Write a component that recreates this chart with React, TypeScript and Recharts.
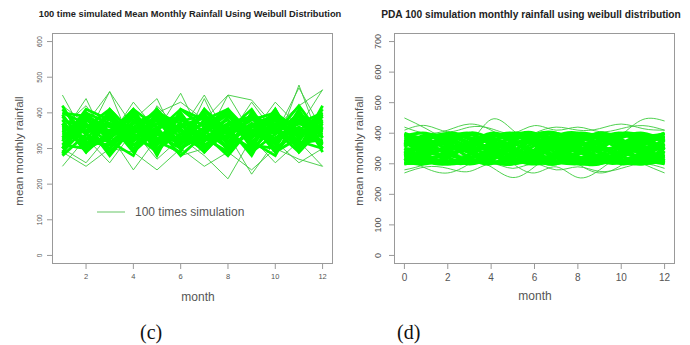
import React from "react";
import { LineChart, Line, XAxis, YAxis } from "recharts";

// (c) months 1..12, 100 time simulated mean monthly rainfall (subset of traces)
const MONTHS_C = [1, 2, 3, 4, 5, 6, 7, 8, 9, 10, 11, 12];
const SIM_C: number[][] = [
  [350, 310, 400, 330, 380, 300, 360, 410, 320, 370, 340, 390],
  [300, 380, 340, 410, 310, 390, 330, 290, 400, 320, 380, 350],
  [410, 340, 300, 370, 400, 350, 290, 360, 330, 410, 300, 370],
  [330, 400, 370, 300, 350, 410, 380, 320, 370, 290, 360, 310],
  [380, 290, 350, 390, 330, 320, 410, 350, 290, 340, 400, 330],
  [290, 360, 410, 340, 290, 370, 320, 390, 350, 380, 320, 410],
  [360, 330, 320, 280, 410, 340, 370, 300, 400, 350, 290, 360],
  [400, 370, 290, 360, 340, 300, 350, 380, 310, 300, 410, 290],
  [320, 410, 380, 330, 370, 390, 300, 340, 380, 400, 350, 320],
  [370, 300, 330, 400, 300, 360, 390, 310, 340, 330, 370, 400],
  [340, 350, 390, 310, 360, 280, 340, 400, 300, 360, 310, 340],
  [310, 390, 360, 380, 320, 400, 310, 350, 410, 310, 390, 300],
  [390, 320, 310, 350, 390, 330, 400, 290, 360, 390, 330, 380],
  [280, 340, 400, 320, 370, 350, 330, 370, 320, 280, 400, 350],
  [350, 380, 350, 400, 280, 410, 360, 330, 390, 360, 300, 420],
  [420, 310, 370, 290, 350, 310, 380, 410, 340, 320, 360, 310],
  [330, 370, 280, 360, 400, 370, 290, 360, 280, 400, 340, 380],
  [370, 290, 410, 340, 320, 290, 410, 320, 370, 340, 420, 330],
  [300, 400, 330, 370, 380, 380, 350, 300, 400, 290, 330, 390],
  [360, 350, 390, 310, 340, 330, 300, 390, 330, 370, 380, 300],
  [340, 330, 300, 390, 310, 360, 390, 340, 300, 410, 290, 360],
  [380, 360, 370, 350, 410, 300, 340, 280, 360, 350, 370, 340],
  [310, 300, 340, 410, 360, 390, 320, 370, 390, 300, 350, 400],
  [400, 390, 320, 330, 300, 340, 370, 400, 310, 380, 320, 300],
  [355, 345, 365, 345, 355, 385, 325, 330, 350, 345, 345, 365],
  [325, 365, 315, 375, 345, 325, 355, 395, 335, 385, 315, 325],
  [395, 305, 385, 325, 395, 355, 305, 365, 385, 325, 375, 345],
  [285, 395, 345, 355, 325, 365, 385, 345, 295, 365, 335, 395],
  [365, 325, 405, 295, 385, 315, 345, 405, 345, 315, 395, 315],
  [345, 385, 325, 395, 295, 375, 395, 315, 365, 395, 305, 375],
];
const OUT_C: number[][] = [
  [450, 330, 460, 300, 420, 350, 450, 330, 430, 340, 470, 350],
  [360, 420, 330, 430, 350, 455, 320, 450, 340, 430, 360, 465],
  [250, 330, 260, 350, 270, 330, 280, 215, 330, 260, 320, 250],
  [300, 260, 340, 240, 330, 280, 300, 340, 228, 320, 260, 300],
  [340, 440, 300, 380, 440, 300, 440, 300, 380, 300, 478, 300],
  [290, 250, 300, 290, 240, 300, 250, 290, 240, 300, 270, 250],
  [420, 370, 459, 360, 400, 430, 380, 450, 436, 360, 420, 464],
];
const XTICKS_C = [2, 4, 6, 8, 10, 12];
const YTICKS_C = [0, 100, 200, 300, 400, 500, 600];

// (d) months 0..12, PDA simulation
const MONTHS_D = [0, 1, 2, 3, 4, 5, 6, 7, 8, 9, 10, 11, 12];
const SIM_D: number[][] = [
  [330, 360, 390, 370, 340, 310, 330, 370, 395, 380, 350, 320, 340],
  [380, 350, 320, 300, 320, 360, 390, 380, 350, 320, 310, 340, 380],
  [310, 330, 360, 400, 380, 340, 310, 300, 330, 370, 395, 380, 350],
  [360, 395, 380, 340, 305, 320, 360, 395, 380, 340, 310, 305, 330],
  [400, 370, 330, 320, 350, 390, 400, 360, 320, 300, 330, 370, 400],
  [300, 310, 340, 370, 395, 370, 330, 310, 340, 380, 400, 360, 310],
  [345, 320, 305, 330, 370, 400, 385, 345, 310, 330, 365, 395, 370],
  [390, 400, 370, 335, 310, 300, 325, 365, 395, 390, 360, 330, 300],
  [320, 345, 375, 395, 370, 335, 300, 320, 365, 400, 380, 340, 320],
  [370, 330, 300, 315, 350, 385, 375, 335, 300, 310, 345, 385, 395],
  [335, 375, 400, 385, 345, 315, 345, 390, 400, 365, 325, 310, 355],
  [305, 300, 325, 360, 390, 395, 365, 325, 305, 320, 355, 390, 385],
  [395, 365, 340, 350, 380, 355, 315, 300, 330, 360, 390, 375, 335],
  [355, 390, 365, 320, 300, 340, 380, 400, 370, 335, 300, 320, 365],
  [315, 340, 390, 380, 335, 305, 320, 355, 385, 395, 370, 345, 305],
  [385, 355, 310, 305, 340, 375, 395, 370, 340, 315, 320, 360, 390],
  [340, 305, 320, 365, 400, 380, 340, 310, 315, 350, 385, 400, 375],
  [365, 385, 395, 360, 325, 330, 370, 385, 355, 310, 305, 335, 360],
  [300, 325, 355, 345, 310, 300, 335, 375, 400, 385, 345, 315, 300],
  [375, 340, 330, 355, 385, 400, 360, 320, 335, 375, 400, 390, 345],
  [325, 365, 385, 400, 360, 320, 300, 340, 380, 360, 315, 300, 325],
  [395, 380, 345, 310, 330, 365, 380, 355, 310, 300, 340, 375, 400],
  [350, 310, 300, 330, 365, 345, 310, 330, 370, 400, 375, 335, 315],
  [310, 355, 380, 350, 315, 355, 395, 400, 360, 325, 330, 365, 385],
  [350, 345, 350, 365, 350, 330, 345, 360, 350, 345, 355, 350, 350],
  [330, 320, 330, 350, 345, 340, 320, 330, 345, 350, 335, 325, 330],
  [370, 375, 360, 345, 355, 370, 365, 350, 360, 375, 370, 355, 365],
  [310, 315, 305, 320, 330, 315, 310, 305, 320, 315, 310, 320, 305],
  [390, 385, 395, 385, 380, 390, 395, 385, 390, 385, 395, 390, 385],
  [300, 305, 300, 310, 305, 300, 310, 305, 300, 310, 305, 300, 310],
];
const OUT_D: number[][] = [
  [450, 415, 375, 370, 445, 410, 365, 350, 340, 360, 395, 445, 440],
  [280, 300, 330, 320, 290, 255, 290, 330, 300, 270, 295, 330, 300],
  [320, 285, 270, 300, 330, 300, 270, 290, 255, 280, 320, 300, 270],
  [420, 400, 410, 430, 410, 380, 400, 420, 410, 415, 430, 415, 410],
  [270, 290, 285, 275, 300, 285, 300, 280, 290, 275, 285, 300, 285],
  [410, 425, 405, 420, 415, 400, 425, 410, 420, 405, 415, 425, 410],
];
const XTICKS_D = [0, 2, 4, 6, 8, 10, 12];
const YTICKS_D = [0, 100, 200, 300, 400, 500, 600, 700];

function buildRows(months: number[], sims: number[][], outs: number[][]) {
  return months.map((m, i) => {
    const row: Record<string, number> = { month: m };
    sims.forEach((s, k) => (row["s" + k] = s[i]));
    outs.forEach((s, k) => (row["o" + k] = s[i]));
    return row;
  });
}

const rowsC = buildRows(MONTHS_C, SIM_C, OUT_C);
const rowsD = buildRows(MONTHS_D, SIM_D, OUT_D);

const FONT = "'Liberation Sans', Arial, sans-serif";
const GREEN = "#00ff00";

const abs = (l: number, t: number): React.CSSProperties => ({ position: "absolute", left: l, top: t });

function RotTick({ y, payload, bx, size }: any) {
  return (
    <text x={bx} y={y} transform={`rotate(-90 ${bx} ${y})`} textAnchor="middle" fontSize={size} fill="#555" fontFamily={FONT}>
      {payload.value}
    </text>
  );
}

function Panel(props: {
  left: number;
  rows: Record<string, number>[];
  sims: number[][];
  outs: number[][];
  xDomain: [number, number];
  xTicks: number[];
  yDomain: [number, number];
  yTicks: number[];
  margin: { top: number; right: number; bottom: number; left: number };
  tickBase: number;
  ySize: number;
  xSize: number;
  curve: "linear" | "natural";
  width: number;
}) {
  const p = props;
  return (
    <div style={{ ...abs(p.left, 0) }}>
      <LineChart width={345} height={300} data={p.rows} margin={p.margin}>
        <XAxis
          dataKey="month"
          type="number"
          domain={p.xDomain}
          ticks={p.xTicks}
          allowDataOverflow
          axisLine={false}
          tickSize={5}
          tickMargin={5}
          height={30}
          stroke="#999"
          tick={{ fontSize: p.xSize, fill: "#555", fontFamily: FONT }}
        />
        <YAxis
          type="number"
          domain={p.yDomain}
          ticks={p.yTicks}
          allowDataOverflow
          axisLine={false}
          tickSize={5}
          width={30}
          stroke="#999"
          tick={(t: any) => <RotTick {...t} bx={p.tickBase} size={p.ySize} />}
        />
        {p.outs.map((_, k) => (
          <Line
            key={"o" + k}
            dataKey={"o" + k}
            type={p.curve}
            stroke="#3ccc3c"
            strokeWidth={0.9}
            dot={false}
            isAnimationActive={false}
          />
        ))}
        {p.sims.map((_, k) => (
          <Line
            key={"s" + k}
            dataKey={"s" + k}
            type={p.curve}
            stroke={GREEN}
            strokeWidth={p.width}
            dot={false}
            isAnimationActive={false}
          />
        ))}
      </LineChart>
    </div>
  );
}

export default function App() {
  const txt = (size: number, extra: React.CSSProperties = {}): React.CSSProperties => ({
    position: "absolute",
    fontFamily: FONT,
    fontSize: size,
    color: "#555",
    whiteSpace: "nowrap",
    lineHeight: 1,
    ...extra,
  });
  return (
    <div style={{ position: "absolute", left: 0, top: 0, width: 690, height: 345, background: "#fff", overflow: "hidden" }}>
      {/* panel (c) */}
      <Panel
        left={0}
        rows={rowsC}
        sims={SIM_C}
        outs={OUT_C}
        xDomain={[0.56, 12.44]}
        xTicks={XTICKS_C}
        yDomain={[-24, 624]}
        yTicks={YTICKS_C}
        margin={{ top: 33, right: 12, bottom: 6, left: 22 }}
        tickBase={42}
        ySize={6.5}
        xSize={7.5}
        curve="linear"
        width={2.8}
      />
      <div style={{ position: "absolute", left: 52, top: 33, width: 281, height: 231, border: "1px solid #999", boxSizing: "border-box" }} />
      <div style={txt(9.3, { left: 190, top: 10, transform: "translateX(-50%)", fontWeight: "bold", color: "#222" })}>
        100 time simulated Mean Monthly Rainfall Using Weibull Distribution
      </div>
      <div style={txt(11.5, { left: 20, top: 151, transform: "translate(-50%, -50%) rotate(-90deg)" })}>mean monthly rainfall</div>
      <div style={txt(12, { left: 198, top: 291, transform: "translateX(-50%)" })}>month</div>
      <svg style={abs(97, 207)} width={30} height={10}>
        <line x1={0} y1={5} x2={28} y2={5} stroke="#7fcf7f" strokeWidth={1.2} />
      </svg>
      <div style={txt(12, { left: 135, top: 206 })}>100 times simulation</div>
      <div style={txt(20, { left: 140, top: 322, fontFamily: "'Liberation Serif', 'Times New Roman', serif", color: "#111" })}>(c)</div>

      {/* panel (d) */}
      <Panel
        left={345}
        rows={rowsD}
        sims={SIM_D}
        outs={OUT_D}
        xDomain={[-0.48, 12.48]}
        xTicks={XTICKS_D}
        yDomain={[-28, 728]}
        yTicks={YTICKS_D}
        margin={{ top: 33, right: 15, bottom: 6, left: 19 }}
        tickBase={36}
        ySize={9}
        xSize={10}
        curve="natural"
        width={3.2}
      />
      <div style={{ position: "absolute", left: 394, top: 33, width: 281, height: 231, border: "1px solid #999", boxSizing: "border-box" }} />
      <div style={txt(10.2, { left: 531, top: 10, transform: "translateX(-50%)", fontWeight: "bold", color: "#222" })}>
        PDA 100 simulation monthly rainfall using weibull distribution
      </div>
      <div style={txt(11.5, { left: 360, top: 151, transform: "translate(-50%, -50%) rotate(-90deg)" })}>mean monthly rainfall</div>
      <div style={txt(12, { left: 535, top: 290, transform: "translateX(-50%)" })}>month</div>
      <div style={txt(20, { left: 397, top: 322, fontFamily: "'Liberation Serif', 'Times New Roman', serif", color: "#111" })}>(d)</div>
    </div>
  );
}
